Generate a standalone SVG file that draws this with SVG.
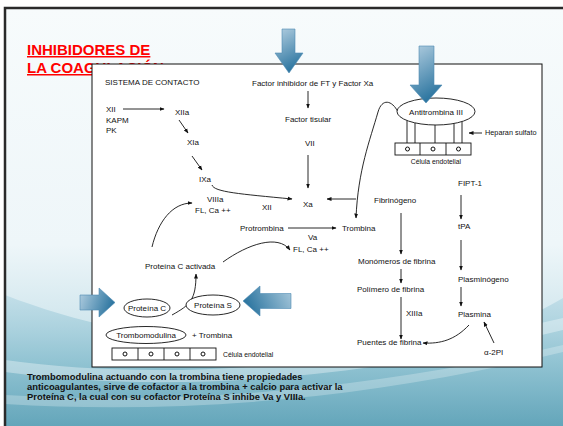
<svg xmlns="http://www.w3.org/2000/svg" width="563" height="426" viewBox="0 0 563 426">
  <defs>
    <linearGradient id="bgGrad" x1="0" y1="0" x2="0" y2="1">
      <stop offset="0" stop-color="#f7fbfc"/>
      <stop offset="0.55" stop-color="#eef6f9"/>
      <stop offset="0.74" stop-color="#d0e6ed"/>
      <stop offset="0.88" stop-color="#98c7d5"/>
      <stop offset="1" stop-color="#68a9bd"/>
    </linearGradient>
    <linearGradient id="waveGrad" x1="0" y1="0" x2="0" y2="1">
      <stop offset="0" stop-color="#bcdbe6"/>
      <stop offset="0.5" stop-color="#8bc0d0"/>
      <stop offset="1" stop-color="#60a3b8"/>
    </linearGradient>
    <linearGradient id="blueDown" x1="0" y1="0" x2="0.35" y2="1">
      <stop offset="0" stop-color="#b3cfe1"/>
      <stop offset="1" stop-color="#2f77a1"/>
    </linearGradient>
    <linearGradient id="blueRight" x1="0" y1="0" x2="1" y2="0.3">
      <stop offset="0" stop-color="#b3cfe1"/>
      <stop offset="1" stop-color="#2f77a1"/>
    </linearGradient>
    <linearGradient id="blueLeft" x1="1" y1="0" x2="0" y2="0.3">
      <stop offset="0" stop-color="#a9c9dc"/>
      <stop offset="1" stop-color="#2f77a1"/>
    </linearGradient>
    <marker id="ah" viewBox="0 0 10 10" refX="9" refY="5" markerWidth="5" markerHeight="5" orient="auto" markerUnits="userSpaceOnUse">
      <path d="M0,1 L10,5 L0,9 Z" fill="#111"/>
    </marker>
    <style>
      .t { font-family: "Liberation Sans", Arial, sans-serif; font-size: 8px; fill: #111; }
      .sm { font-size: 6.8px; }
      .c { text-anchor: middle; }
      .ln { fill: none; stroke: #111; stroke-width: 0.9; }
      .ar { fill: none; stroke: #111; stroke-width: 0.9; marker-end: url(#ah); }
      .shape { fill: #fff; stroke: #111; stroke-width: 0.9; }
      .dot { fill: none; stroke: #111; stroke-width: 1; }
      .title { font-family: "Liberation Sans", Arial, sans-serif; font-size: 15px; font-weight: bold; fill: #ff0000; text-decoration: underline; }
      .note { font-family: "Liberation Sans", Arial, sans-serif; font-size: 9.4px; font-weight: bold; fill: #111; }
      .blue { stroke: #4f8cb3; stroke-width: 0.6; }
    </style>
  </defs>

  <!-- slide background -->
  <rect x="0" y="0" width="563" height="426" fill="#ffffff"/>
  <rect x="5" y="8" width="570" height="430" fill="url(#bgGrad)"/>
  <path d="M5,295 C90,328 200,350 330,352 C430,352 510,330 563,298 L563,426 L5,426 Z" fill="url(#waveGrad)" opacity="0.8"/>
  <path d="M5,360 C150,380 330,372 563,318 L563,330 C340,385 150,392 5,372 Z" fill="#ffffff" opacity="0.35"/>
  <path d="M5,395 C170,405 360,392 563,345 L563,352 C360,402 170,414 5,404 Z" fill="#ffffff" opacity="0.25"/>
  <rect x="5" y="8" width="570" height="430" fill="none" stroke="#2a2a2a" stroke-width="2.5"/>

  <!-- title -->
  <text class="title" x="27" y="55">INHIBIDORES DE</text>
  <text class="title" x="27" y="73">LA COAGULACIÓN</text>

  <!-- figure frame -->
  <rect x="92" y="64" width="450" height="303" fill="#ffffff" stroke="#111" stroke-width="1"/>

  <!-- connectors -->
  <g id="connectors">
    <path class="ar" d="M123,109 L164,109"/>
    <path class="ar" d="M179,120 L188,133"/>
    <path class="ar" d="M192,156 L202,170"/>
    <path class="ar" d="M212,185 C214,192 240,194 292,199"/>
    <path class="ar" d="M308,91 L308,108"/>
    <path class="ar" d="M308,155 L308,188"/>
    <path class="ar" d="M356,199 L327,199"/>
    <path class="ar" d="M398,112 C392,100 382,98 378,112 C370,140 358,170 356,218"/>
    <path class="ar" d="M288,228 L336,228"/>
    <path class="ar" d="M223,262 C248,244 278,234 290,250"/>
    <path class="ar" d="M152,247 C158,222 172,203 192,203"/>
    <path class="ar" d="M172,315 C190,305 196,300 196,274"/>
    <path class="ar" d="M482,133 L469,133"/>
    <path class="ar" d="M401,213 L401,254"/>
    <path class="ar" d="M401,269 L401,283"/>
    <path class="ar" d="M401,297 L401,339"/>
    <path class="ar" d="M461,195 L461,219"/>
    <path class="ar" d="M461,240 L461,270"/>
    <path class="ar" d="M461,287 L461,306"/>
    <path class="ar" d="M469,325 C455,340 440,344 423,343"/>
    <path class="ar" d="M494,343 L484,322"/>
    <!-- heparan sulfate chains -->
    <path class="ln" d="M407,120.5 L407,143 M415,123 L415,143 M435,125 L435,143 M454,123.5 L454,143 M462,121.6 L462,143"/>
  </g>

  <!-- contact system -->
  <g id="n-sistema"><text class="t" x="105" y="85">SISTEMA DE CONTACTO</text></g>
  <g id="n-xii">
    <text class="t" x="106" y="112">XII</text>
    <text class="t" x="106" y="123">KAPM</text>
    <text class="t" x="106" y="133">PK</text>
  </g>
  <g id="n-xiia"><text class="t" x="175" y="115">XIIa</text></g>
  <g id="n-xia"><text class="t" x="187" y="145">XIa</text></g>
  <g id="n-ixa"><text class="t" x="199" y="182">IXa</text></g>
  <g id="n-viiia">
    <text class="t" x="207" y="202">VIIIa</text>
    <text class="t" x="195" y="213">FL, Ca ++</text>
  </g>
  <g id="n-xii-label"><text class="t" x="262" y="210">XII</text></g>

  <!-- tissue factor pathway -->
  <g id="n-factor-inhibidor"><text class="t" x="252" y="86">Factor inhibidor de FT y Factor Xa</text></g>
  <g id="n-factor-tisular"><text class="t" x="285" y="122">Factor tisular</text></g>
  <g id="n-vii"><text class="t" x="305" y="146">VII</text></g>
  <g id="n-xa"><text class="t" x="303" y="207">Xa</text></g>
  <g id="n-protrombina"><text class="t" x="240" y="231">Protrombina</text></g>
  <g id="n-trombina"><text class="t" x="342" y="231">Trombina</text></g>
  <g id="n-va">
    <text class="t" x="308" y="240">Va</text>
    <text class="t" x="293" y="252">FL, Ca ++</text>
  </g>

  <!-- antithrombin on endothelium -->
  <g id="n-antitrombina">
    <ellipse class="shape" cx="436" cy="111.5" rx="39" ry="13.5"/>
    <text class="t c" x="436" y="115">Antitrombina III</text>
  </g>
  <g id="n-celula-top">
    <rect class="shape" x="395" y="143" width="76" height="12"/>
    <path class="ln" d="M420,143 L420,155 M446,143 L446,155"/>
    <circle class="dot" cx="407.5" cy="149" r="2"/>
    <circle class="dot" cx="433" cy="149" r="2"/>
    <circle class="dot" cx="458.5" cy="149" r="2"/>
    <text class="t sm c" x="436" y="164">Célula endotelial</text>
  </g>
  <g id="n-heparan"><text class="t" x="485" y="135" style="font-size:7.3px">Heparan sulfato</text></g>

  <!-- fibrin formation -->
  <g id="n-fibrinogeno"><text class="t" x="374" y="203">Fibrinógeno</text></g>
  <g id="n-monomeros"><text class="t" x="358" y="264">Monómeros de fibrina</text></g>
  <g id="n-polimero"><text class="t" x="357" y="292">Polímero de fibrina</text></g>
  <g id="n-xiiia"><text class="t" x="406" y="316">XIIIa</text></g>
  <g id="n-puentes"><text class="t" x="357" y="345">Puentes de fibrina</text></g>

  <!-- fibrinolysis -->
  <g id="n-fipt"><text class="t" x="458" y="186">FIPT-1</text></g>
  <g id="n-tpa"><text class="t" x="458" y="229">tPA</text></g>
  <g id="n-plasminogeno"><text class="t" x="458" y="282">Plasminógeno</text></g>
  <g id="n-plasmina"><text class="t" x="458" y="317">Plasmina</text></g>
  <g id="n-a2pi"><text class="t" x="484" y="355">α-2PI</text></g>

  <!-- protein C system -->
  <g id="n-proteina-c-activada"><text class="t" x="145" y="269">Proteína C activada</text></g>
  <g id="n-proteina-c">
    <ellipse class="shape" cx="147" cy="308" rx="23" ry="9"/>
    <text class="t c" x="147" y="311">Proteína C</text>
  </g>
  <g id="n-proteina-s">
    <ellipse class="shape" cx="213" cy="305" rx="27" ry="10"/>
    <text class="t c" x="213" y="308">Proteína S</text>
  </g>
  <g id="n-trombomodulina">
    <ellipse class="shape" cx="146" cy="335" rx="40" ry="8.5"/>
    <text class="t c" x="146" y="338">Trombomodulina</text>
    <text class="t" x="192" y="338">+ Trombina</text>
  </g>
  <g id="n-celula-bottom">
    <rect class="shape" x="112" y="348" width="104" height="12"/>
    <path class="ln" d="M138,348 L138,360 M164,348 L164,360 M190,348 L190,360"/>
    <circle class="dot" cx="125" cy="354" r="2"/>
    <circle class="dot" cx="151" cy="354" r="2"/>
    <circle class="dot" cx="177" cy="354" r="2"/>
    <circle class="dot" cx="203" cy="354" r="2"/>
    <text class="t sm" x="223" y="357">Célula endotelial</text>
  </g>

  <!-- highlight arrows -->
  <g id="arrow-fti"><polygon class="blue" fill="url(#blueDown)" points="282,29 295,29 295,53 303,53 289,73 275,53 282,53"/></g>
  <g id="arrow-at"><polygon class="blue" fill="url(#blueDown)" points="419,46 434,46 434,85 442,85 426,103 410,85 419,85"/></g>
  <g id="arrow-pc"><polygon class="blue" fill="url(#blueRight)" points="80,295 99,295 99,288 115,302.5 99,317 99,310 80,310"/></g>
  <g id="arrow-ps"><polygon class="blue" fill="url(#blueLeft)" points="291,293.5 260,293.5 260,286 243,301 260,316 260,308.5 291,308.5"/></g>

  <!-- caption -->
  <g id="caption">
    <text class="note" x="27" y="380">Trombomodulina actuando con la trombina tiene propiedades</text>
    <text class="note" x="27" y="390">anticoagulantes, sirve de cofactor a la trombina + calcio para activar la</text>
    <text class="note" x="27" y="400">Proteína C, la cual con su cofactor Proteína S  inhibe Va y VIIIa.</text>
  </g>
</svg>
